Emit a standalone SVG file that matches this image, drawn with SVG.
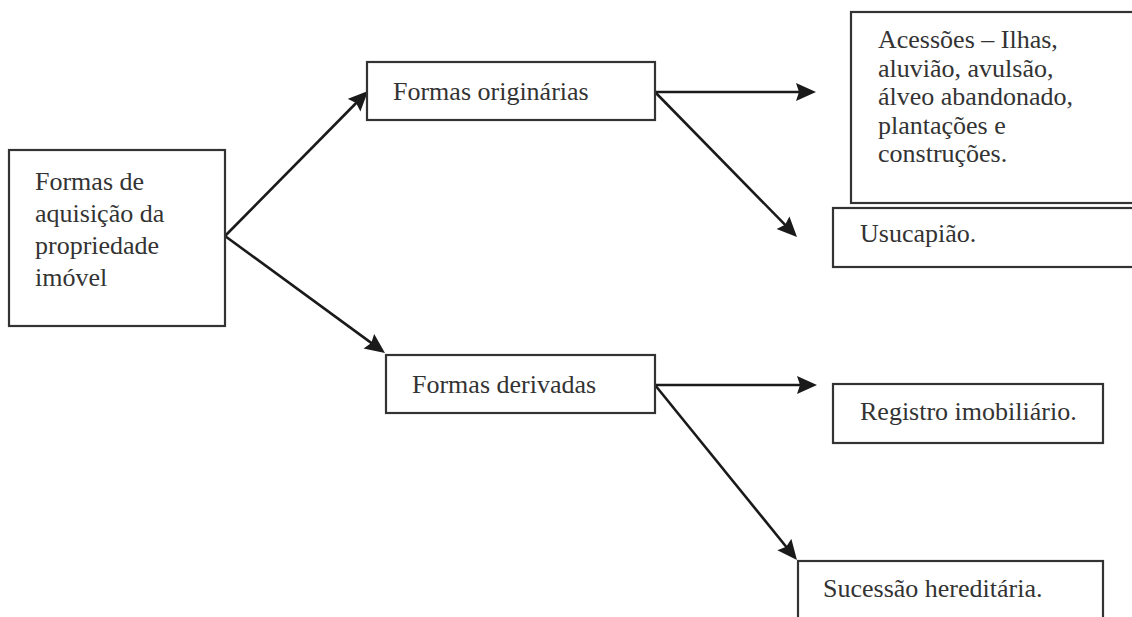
<svg xmlns="http://www.w3.org/2000/svg" width="1132" height="617" viewBox="0 0 1132 617">
  <style>
    .box { fill: #ffffff; stroke: #333333; stroke-width: 2.2; }
    text { font-family: 'Liberation Serif', 'Times New Roman', Times, 'DejaVu Serif', serif; font-size: 26px; fill: #333333; }
    .conn { stroke: #1a1a1a; stroke-width: 2.6; fill: none; marker-end: url(#arrow); }
  </style>
  <defs>
    <marker id="arrow" markerUnits="userSpaceOnUse" markerWidth="22" markerHeight="20" viewBox="0 0 22 20" refX="8" refY="9" orient="auto">
      <path d="M0,0 L20,9 L0,18 L3,9 z" fill="#1a1a1a"/>
    </marker>
  </defs>
  <rect width="1132" height="617" fill="#ffffff"/>

  <g id="connectors">
    <line class="conn" x1="225" y1="236" x2="359.6" y2="99.5"/>
    <line class="conn" x1="225" y1="236" x2="375.3" y2="345.9"/>
    <line class="conn" x1="655" y1="92" x2="804" y2="92"/>
    <line class="conn" x1="655" y1="92" x2="788.6" y2="228.4"/>
    <line class="conn" x1="655" y1="385" x2="805" y2="385"/>
    <line class="conn" x1="655" y1="385" x2="789.4" y2="550.7"/>
  </g>

  <g id="node-main" font-family="Liberation Serif, serif">
    <rect class="box" x="9" y="150" width="216" height="176"/>
    <text x="35" y="190">Formas de</text>
    <text x="35" y="222">aquisição da</text>
    <text x="35" y="254">propriedade</text>
    <text x="35" y="286">imóvel</text>
  </g>

  <g id="node-originarias">
    <rect class="box" x="367" y="62" width="288" height="58"/>
    <text x="393" y="100">Formas originárias</text>
  </g>

  <g id="node-derivadas">
    <rect class="box" x="386" y="355" width="269" height="58"/>
    <text x="412" y="393">Formas derivadas</text>
  </g>

  <g id="node-acessoes">
    <rect class="box" x="851" y="12" width="300" height="191"/>
    <text x="878" y="48">Acessões – Ilhas,</text>
    <text x="878" y="77">aluvião, avulsão,</text>
    <text x="878" y="105">álveo abandonado,</text>
    <text x="878" y="134">plantações e</text>
    <text x="878" y="162">construções.</text>
  </g>

  <g id="node-usucapiao">
    <rect class="box" x="833" y="208" width="320" height="59"/>
    <text x="860" y="242">Usucapião.</text>
  </g>

  <g id="node-registro">
    <rect class="box" x="833" y="384" width="270" height="59"/>
    <text x="860" y="420">Registro imobiliário.</text>
  </g>

  <g id="node-sucessao">
    <rect class="box" x="798" y="561" width="305" height="80"/>
    <text x="823" y="597">Sucessão hereditária.</text>
  </g>
</svg>
